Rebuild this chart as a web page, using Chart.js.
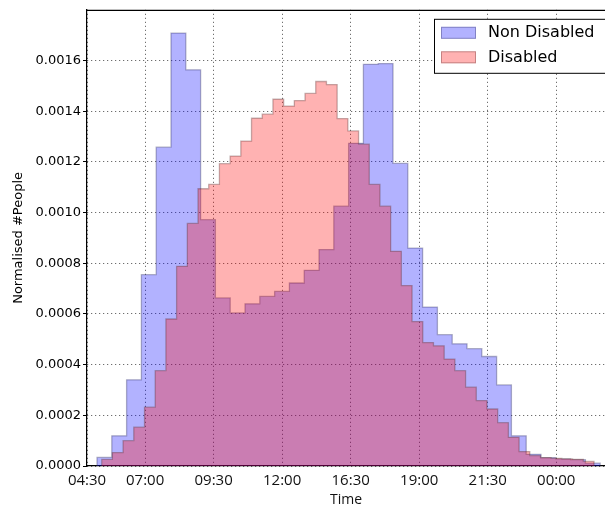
<!DOCTYPE html>
<html>
<head>
<meta charset="utf-8">
<script src="https://cdn.jsdelivr.net/npm/chart.js@4.4.1/dist/chart.umd.min.js"></script>
<style>
    html, body { margin: 0; padding: 0; background: #ffffff; }
    #wrap { width: 605px; height: 508px; }
</style>
</head>
<body>
<div id="wrap"><canvas id="myChart1" width="605" height="508"></canvas></div>
<script>
//------------------ グローバル変数 ------------------//
// チャートID
const CHART_ID = 'myChart1'

// 横軸 (04:30 からの経過時間 [h]) と目盛りラベル
const X_MAX = 18.9
const X_TICK_POS = [0, 2.12, 4.62, 7.12, 9.62, 12.12, 14.62, 17.12]
const X_TICK_LABELS = ['04:30', '07:00', '09:30', '12:00', '16:30', '19:00', '21:30', '00:00']

// 縦軸の目盛り
const Y_MAX = 0.0018
const Y_TICKS = [0, 0.0002, 0.0004, 0.0006, 0.0008, 0.0010, 0.0012, 0.0014, 0.0016]

// Non Disabled (ビン開始位置, ビン幅 [h], 値)
const NON_DISABLED_START = 0.365
const NON_DISABLED_WIDTH = 0.54
const NON_DISABLED = [
    0.000034, 0.000119, 0.000340, 0.000755, 0.001258, 0.001708, 0.001563, 0.000972,
    0.000663, 0.000604, 0.000640, 0.000669, 0.000689, 0.000722, 0.000772, 0.000854,
    0.001025, 0.001273, 0.001585, 0.001588, 0.001194, 0.000860, 0.000627, 0.000518,
    0.000482, 0.000463, 0.000432, 0.000320, 0.000119, 0.000046, 0.000033, 0.000028,
    0.000025, 0.000011
]

// Disabled (ビン開始位置, ビン幅 [h], 値)
const DISABLED_START = 0.536
const DISABLED_WIDTH = 0.3905
const DISABLED = [
    0.000026, 0.000053, 0.000100, 0.000153, 0.000232, 0.000376, 0.000580, 0.000788,
    0.000957, 0.001094, 0.001111, 0.001193, 0.001223, 0.001282, 0.001372, 0.001388,
    0.001447, 0.001420, 0.001442, 0.001470, 0.001517, 0.001505, 0.001371, 0.001322,
    0.001270, 0.001111, 0.001025, 0.000847, 0.000712, 0.000570, 0.000487, 0.000474,
    0.000422, 0.000376, 0.000311, 0.000258, 0.000225, 0.000171, 0.000113, 0.000057,
    0.000041, 0.000033, 0.000030, 0.000028, 0.000026, 0.000018
]
//-------------------------------------------------//


/*--------------------------------------------------------------------
ヒストグラムの階段データを作る関数
引数：ビン開始位置, ビン幅, 値の配列
戻り値：{x, y} の配列 (両端は 0 に落とす)
--------------------------------------------------------------------*/
function makeSteps(start, width, values){
    var points = [{x: start, y: 0}]
    for (let i=0; i<values.length; i++){
        points.push({x: start + i * width, y: values[i]})
    }
    points.push({x: start + values.length * width, y: 0})
    return points
}

/*--------------------------------------------------------------------
上枠線と凡例を描くプラグイン
--------------------------------------------------------------------*/
const framePlugin = {
    id: 'frameAndLegend',
    afterDraw(chart){
        const ctx = chart.ctx
        const area = chart.chartArea
        ctx.save()
        // 上枠
        ctx.strokeStyle = '#000000'
        ctx.lineWidth = 1.2
        ctx.beginPath()
        ctx.moveTo(area.left, area.top + 0.5)
        ctx.lineTo(area.right, area.top + 0.5)
        ctx.stroke()

        // 凡例
        const boxLeft = area.right - 171
        const boxTop = area.top + 9
        ctx.fillStyle = '#ffffff'
        ctx.fillRect(boxLeft, boxTop, 200, 54)
        ctx.lineWidth = 1
        ctx.strokeRect(boxLeft + 0.5, boxTop + 0.5, 200, 54)

        // 凡例の並び順は Non Disabled, Disabled
        const datasets = chart.data.datasets
        ctx.font = '16px "DejaVu Sans"'
        ctx.textBaseline = 'middle'
        for (let i=0; i<datasets.length; i++){
            const ds = datasets[i]
            const rowY = boxTop + 14 + i * 24.5
            ctx.fillStyle = '#ffffff'
            ctx.fillRect(boxLeft + 7, rowY - 6, 35, 12)
            ctx.fillStyle = ds.backgroundColor
            ctx.fillRect(boxLeft + 7, rowY - 6, 35, 12)
            ctx.strokeStyle = ds.borderColor
            ctx.strokeRect(boxLeft + 7.5, rowY - 5.5, 34, 11)
            ctx.fillStyle = '#000000'
            ctx.fillText(ds.label, boxLeft + 54, rowY + 0.5)
        }
        ctx.restore()
    }
}

/*--------------------------------------------------------------------
グラフをプロットする関数
--------------------------------------------------------------------*/
function plotChart(chart_id){
    var ctx = document.getElementById(chart_id)

    const datasets = [
        {
            label: 'Non Disabled',
            data: makeSteps(NON_DISABLED_START, NON_DISABLED_WIDTH, NON_DISABLED),
            backgroundColor: 'rgba(0, 0, 255, 0.3)',
            borderColor: 'rgba(40, 40, 90, 0.35)',
            order: 1,
        },
        {
            label: 'Disabled',
            data: makeSteps(DISABLED_START, DISABLED_WIDTH, DISABLED),
            backgroundColor: 'rgba(255, 0, 0, 0.3)',
            borderColor: 'rgba(90, 40, 40, 0.35)',
            order: 0,
        },
    ]
    datasets.forEach(function(ds){
        ds.stepped = true
        ds.fill = 'origin'
        ds.borderWidth = 1.3
        ds.pointRadius = 0
        ds.tension = 0
    })

    window.myChart = new Chart(ctx, {
        type: 'line',
        data: {
            datasets: datasets,
        },
        plugins: [framePlugin],
        options: {
            responsive: false,
            animation: false,
            events: [],
            layout: {
                padding: {top: 4, right: 0, bottom: 0, left: 0}
            },
            plugins: {
                legend: {display: false},
                tooltip: {enabled: false},
            },
            scales: {
                x: {
                    type: 'linear',
                    min: 0,
                    max: X_MAX,
                    z: 1,
                    afterBuildTicks: function(scale){
                        scale.ticks = X_TICK_POS.map(v => ({value: v}))
                    },
                    afterFit: function(scale){
                        scale.height = 42
                    },
                    ticks: {
                        autoSkip: false,
                        maxRotation: 0,
                        padding: 6,
                        color: '#111111',
                        font: {family: '"Open Sans"', size: 15},
                        callback: function(value, index){
                            return X_TICK_LABELS[index]
                        }
                    },
                    grid: {
                        color: 'rgba(0, 0, 0, 0.7)',
                        lineWidth: 1,
                        drawTicks: false,
                    },
                    border: {
                        display: true,
                        color: '#000000',
                        width: 1.2,
                        dash: [1, 3],
                    },
                    title: {
                        display: true,
                        text: 'Time',
                        color: '#111111',
                        font: {family: '"Open Sans"', size: 14},
                        padding: {top: 0, bottom: 0},
                    }
                },
                y: {
                    type: 'linear',
                    min: 0,
                    max: Y_MAX,
                    z: 1,
                    afterBuildTicks: function(scale){
                        scale.ticks = Y_TICKS.map(v => ({value: v}))
                    },
                    afterFit: function(scale){
                        scale.width = 87
                    },
                    ticks: {
                        padding: 2,
                        color: '#000000',
                        font: {family: '"DejaVu Sans"', size: 13},
                        callback: function(value){
                            return value.toFixed(4)
                        }
                    },
                    grid: {
                        color: 'rgba(0, 0, 0, 0.7)',
                        lineWidth: 1,
                        drawTicks: true,
                        tickLength: 4,
                        tickColor: '#000000',
                        tickWidth: 1,
                    },
                    border: {
                        display: true,
                        color: '#000000',
                        width: 1.2,
                        dash: [1, 3],
                    },
                    title: {
                        display: true,
                        text: 'Normalised #People',
                        color: '#000000',
                        font: {family: '"DejaVu Sans"', size: 13},
                        padding: {top: 11, bottom: 0},
                    }
                }
            }
        }
    })
}

plotChart(CHART_ID)
</script>
</body>
</html>
